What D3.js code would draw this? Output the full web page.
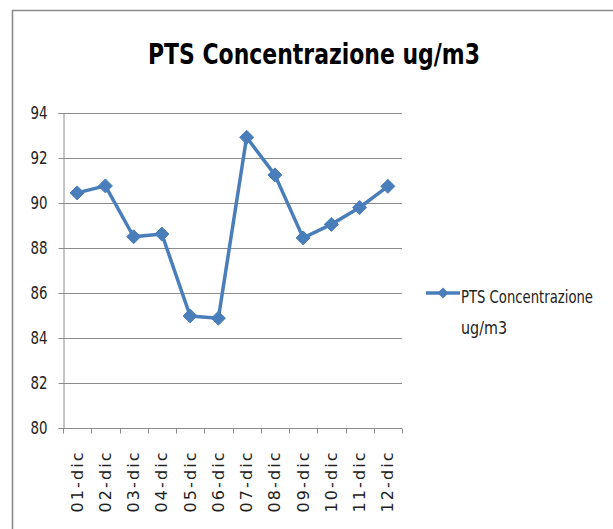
<!DOCTYPE html>
<html>
<head>
<meta charset="utf-8">
<script src="https://cdn.jsdelivr.net/npm/d3@7"></script>
<style>
  html, body { margin: 0; padding: 0; background: #fff; }
  svg { display: block; }
  .narrow { font-family: "Liberation Sans Narrow", "DejaVu Sans Condensed", "Open Sans", sans-serif; }
</style>
</head>
<body>
<svg id="chart" width="613" height="529"></svg>
<script>
// Daily PTS concentration, December
const days = ["01-dic","02-dic","03-dic","04-dic","05-dic","06-dic","07-dic","08-dic","09-dic","10-dic","11-dic","12-dic"];
const concentration = [90.45, 90.76, 88.5, 88.62, 84.98, 84.88, 92.92, 91.25, 88.45, 89.05, 89.8, 90.74];
const yTicks = [80, 82, 84, 86, 88, 90, 92, 94];
const seriesName = "PTS Concentrazione ug/m3";
const legendLines = ["PTS Concentrazione", "ug/m3"];

const svg = d3.select("#chart");
const blue = "#4a7ebb";
const gridGray = "#8c8c8c";

// chart frame (left and top edges)
svg.append("path")
  .attr("d", "M12.5,529 V10.5 H613")
  .attr("fill", "none")
  .attr("stroke", "#8a8a8a")
  .attr("stroke-width", 1.6);

// title
svg.append("text")
  .attr("class", "narrow")
  .attr("x", 148).attr("y", 64)
  .attr("textLength", 332).attr("lengthAdjust", "spacingAndGlyphs")
  .attr("font-size", 29).attr("font-weight", "bold")
  .attr("fill", "#000")
  .text(seriesName);

const plotLeft = 63, plotRight = 402, plotTop = 113, plotBottom = 428;

const x = d3.scaleBand().domain(days).range([plotLeft, plotRight]);
const y = d3.scaleLinear().domain([80, 94]).range([plotBottom, plotTop]);

// horizontal gridlines
svg.append("g")
  .selectAll("line")
  .data(yTicks.filter(v => v !== 80))
  .join("line")
  .attr("x1", plotLeft).attr("x2", plotRight)
  .attr("y1", d => Math.round(y(d)) + 0.5).attr("y2", d => Math.round(y(d)) + 0.5)
  .attr("stroke", gridGray).attr("stroke-width", 1);

// y axis
const yAxis = svg.append("g")
  .attr("transform", `translate(${plotLeft + 0.5},0)`)
  .call(d3.axisLeft(y).tickValues(yTicks).tickSize(5).tickPadding(11).tickFormat(d3.format("d")));
yAxis.select(".domain").attr("stroke", gridGray);
yAxis.selectAll(".tick line").attr("stroke", gridGray);
yAxis.selectAll(".tick text")
  .attr("class", "narrow")
  .attr("font-size", 17)
  .attr("textLength", 17).attr("lengthAdjust", "spacingAndGlyphs")
  .attr("fill", "#222");

// x axis: ticks at category boundaries
const xAxisG = svg.append("g").attr("transform", `translate(0,${plotBottom + 0.5})`);
xAxisG.append("line")
  .attr("x1", plotLeft).attr("x2", plotRight)
  .attr("stroke", gridGray);
xAxisG.selectAll("line.tk")
  .data(days.concat(["__end"]))
  .join("line")
  .attr("class", "tk")
  .attr("x1", (d, i) => Math.round(plotLeft + i * x.step()) + 0.5)
  .attr("x2", (d, i) => Math.round(plotLeft + i * x.step()) + 0.5)
  .attr("y1", 0).attr("y2", 5)
  .attr("stroke", gridGray);

// rotated day labels
xAxisG.selectAll("text")
  .data(days)
  .join("text")
  .attr("transform", d => `translate(${x(d) + x.bandwidth() / 2},24) rotate(-90)`)
  .attr("text-anchor", "end")
  .attr("dominant-baseline", "central")
  .attr("font-family", "DejaVu Sans, sans-serif")
  .attr("font-size", 16)
  .attr("textLength", 60).attr("lengthAdjust", "spacing")
  .attr("fill", "#222")
  .text(d => d);

// series line
const line = d3.line()
  .x((d, i) => x(days[i]) + x.bandwidth() / 2)
  .y(d => y(d));

svg.append("path")
  .datum(concentration)
  .attr("d", line)
  .attr("fill", "none")
  .attr("stroke", blue)
  .attr("stroke-width", 3.5)
  .attr("stroke-linejoin", "round");

const diamond = s => `M0,${-s} L${s},0 L0,${s} L${-s},0 Z`;

svg.append("g")
  .selectAll("path")
  .data(concentration)
  .join("path")
  .attr("transform", (d, i) => `translate(${x(days[i]) + x.bandwidth() / 2},${y(d)})`)
  .attr("d", diamond(7))
  .attr("fill", blue)
  .attr("stroke", blue)
  .attr("stroke-width", 1);

// legend
const legendWidths = [132, 46];
const lg = svg.append("g").attr("transform", "translate(426,293)");
lg.append("line").attr("x1", 0).attr("x2", 34).attr("y1", 0).attr("y2", 0)
  .attr("stroke", blue).attr("stroke-width", 3.5);
lg.append("path").attr("transform", "translate(17,0)").attr("d", diamond(5.5))
  .attr("fill", blue);
lg.selectAll("text")
  .data(legendLines)
  .join("text")
  .attr("class", "narrow")
  .attr("x", 35)
  .attr("y", (d, i) => 10 + i * 31)
  .attr("font-size", 17)
  .attr("textLength", (d, i) => legendWidths[i]).attr("lengthAdjust", "spacingAndGlyphs")
  .attr("fill", "#222")
  .text(d => d);
</script>
</body>
</html>
